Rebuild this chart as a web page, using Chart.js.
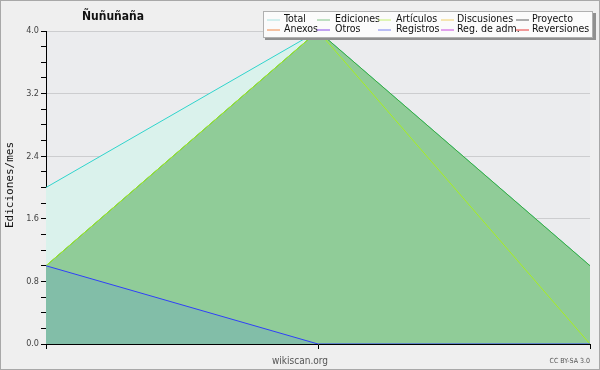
<!DOCTYPE html>
<html><head><meta charset="utf-8">
<script src="https://cdn.jsdelivr.net/npm/chart.js@4/dist/chart.umd.min.js"></script>
<style>html,body{margin:0;padding:0;background:#efefef;}#wrap{width:600px;height:370px;position:relative;}</style>
</head><body><div id="wrap"><canvas id="c" width="600" height="370"></canvas></div>
<script>
const categories = ['1', '2', '3'];
const total = [2.0, 4.0, 1.0];
const ediciones = [1.0, 4.0, 1.0];
const articulos = [1.0, 4.0, 0.0];
const registros = [1.0, 0.0, 0.0];
const yTickLabels = ['0.0', '0.8', '1.6', '2.4', '3.2', '4.0'];
const legendNames = ['Total','Ediciones','Artículos','Discusiones','Proyecto','Anexos','Otros','Registros','Reg. de adm.','Reversiones'];
const legendColors = ['#a8e2e0','#80c488','#c4f070','#f0d068','#606060','#f08848','#8848e8','#7880f0','#c848e0','#e83838'];
const titleText = 'Ñuñuñaña';
const yTitle = 'Ediciones/mes';
const COND = '"DejaVu Sans Condensed", "Liberation Sans", sans-serif';

const deco = {
  id: 'deco',
  beforeDraw(chart) {
    const c = chart.ctx, a = chart.chartArea;
    c.save();
    c.fillStyle = '#efefef'; c.fillRect(0, 0, 600, 370);
    c.strokeStyle = '#a8a8a8'; c.lineWidth = 1; c.strokeRect(0.5, 0.5, 599, 369);
    c.fillStyle = '#ebecee'; c.fillRect(a.left, a.top, a.right - a.left, a.bottom - a.top);
    c.restore();
  },
  afterDraw(chart) {
    const c = chart.ctx;
    c.save();
    c.fillStyle = '#111'; c.font = 'bold 12px ' + COND; c.textAlign = 'center'; c.textBaseline = 'middle';
    c.fillText(titleText, 113, 17);
    c.save(); c.translate(10, 185); c.rotate(-Math.PI/2);
    c.font = '11px "DejaVu Sans Mono"'; c.fillStyle = '#111'; c.fillText(yTitle, 0, 0); c.restore();
    c.font = '10px ' + COND; c.fillStyle = '#555'; c.fillText('wikiscan.org', 300, 361);
    c.font = '7px ' + COND; c.textAlign = 'right'; c.fillText('CC BY-SA 3.0', 590, 361);
    // legend
    c.fillStyle = '#909090'; c.fillRect(265, 13, 331, 27);
    c.fillStyle = '#fbfbfb'; c.fillRect(263, 11, 330, 27);
    c.strokeStyle = '#b0b0b0'; c.strokeRect(263.5, 11.5, 329, 26);
    const lineX = [267, 317, 378, 441, 516], textX = [284, 335, 396, 457, 532], rowY = [19.5, 29.5];
    c.font = '10.5px ' + COND; c.textAlign = 'left'; c.textBaseline = 'middle';
    for (let i = 0; i < legendNames.length; i++) {
      const col = i % 5, row = Math.floor(i / 5);
      c.strokeStyle = legendColors[i]; c.lineWidth = 1;
      c.beginPath(); c.moveTo(lineX[col], rowY[row] + 0.5); c.lineTo(lineX[col] + 13, rowY[row] + 0.5); c.stroke();
      c.fillStyle = '#111'; c.fillText(legendNames[i], textX[col], rowY[row]);
    }
    c.restore();
  }
};

Chart.defaults.font.family = COND;
new Chart(document.getElementById('c'), {
  type: 'line',
  data: {
    labels: categories,
    datasets: [
      { label: 'Total', data: total, borderColor: '#30d4cc', backgroundColor: '#daf2ec', fill: 'origin', borderWidth: 1, pointRadius: 0, order: 4, tension: 0 },
      { label: 'Ediciones', data: ediciones, borderColor: '#3aaa3e', backgroundColor: '#90cc98', fill: 'origin', borderWidth: 1, pointRadius: 0, order: 3, tension: 0 },
      { label: 'Artículos', data: articulos, borderColor: '#a8ee20', backgroundColor: 'rgba(0,0,0,0)', fill: false, borderWidth: 1, pointRadius: 0, order: 2, tension: 0 },
      { label: 'Registros', data: registros, borderColor: '#3040f8', backgroundColor: '#82bea8', fill: 'origin', borderWidth: 1, pointRadius: 0, order: 1, tension: 0 }
    ]
  },
  options: {
    responsive: false, animation: false,
    layout: { padding: { top: 31, right: 10, left: 0, bottom: 0 } },
    plugins: { legend: { display: false }, tooltip: { enabled: false } },
    scales: {
      x: {
        offset: false,
        grid: { drawOnChartArea: false, drawTicks: true, tickLength: 5, tickColor: '#000' },
        border: { color: '#000', width: 1 },
        ticks: { callback: () => '', maxRotation: 0 },
        afterFit(s) { s.height = 26; }
      },
      y: {
        min: 0, max: 4, z: 1,
        grid: {
          color: (ctx) => { const v = Math.round(ctx.tick.value * 10); return (v % 8 === 0 && v > 0) ? 'rgba(0,0,0,0.13)' : 'rgba(0,0,0,0)'; },
          tickColor: '#000', tickLength: 5, drawTicks: true
        },
        border: { color: '#000', width: 1 },
        ticks: {
          stepSize: 0.2, autoSkip: false, padding: 2, color: '#444', font: { size: 9 },
          callback: (v) => { const k = Math.round(v * 10); return k % 8 === 0 ? yTickLabels[k / 8] : ''; }
        },
        afterFit(s) { s.width = 46; }
      }
    }
  },
  plugins: [deco]
});
</script></body></html>
